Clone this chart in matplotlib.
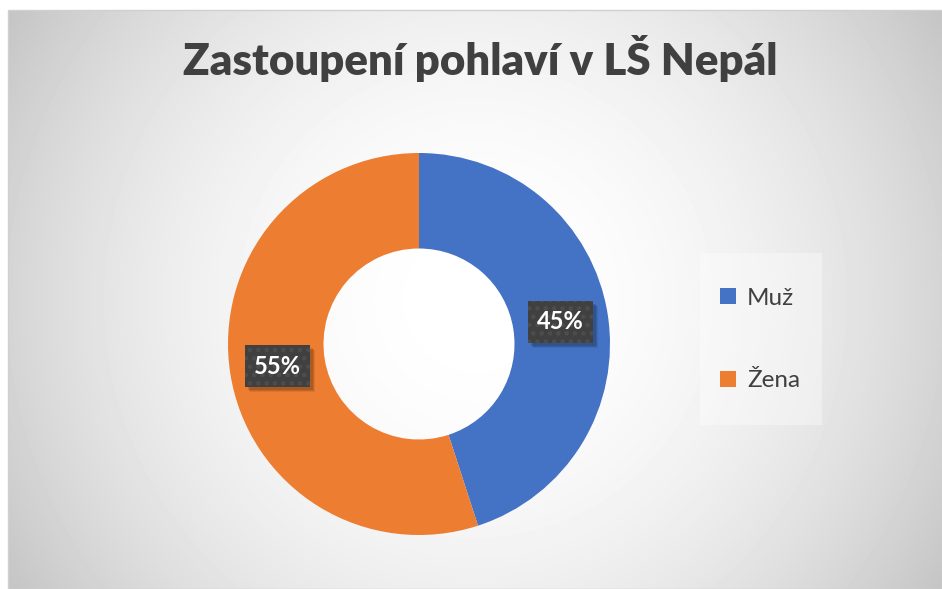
import numpy as np
import matplotlib.pyplot as plt
from matplotlib.patches import Rectangle

# --- data ---
labels = ["Muž", "Žena"]
shares = [45, 55]
colors = ["#4472C4", "#ED7D31"]
title = "Zastoupení pohlaví v LŠ Nepál"

W, H = 942, 589
fig = plt.figure(figsize=(W / 100, H / 100), dpi=100)
fig.patch.set_facecolor("white")

# --- background (pixel coordinates) ---
bg = fig.add_axes([0, 0, 1, 1])
bg.set_xlim(0, W)
bg.set_ylim(H, 0)
bg.axis("off")

x0, y0, x1, y1 = 8, 10, 942, 589
xx, yy = np.meshgrid(np.arange(x0, x1), np.arange(y0, y1))
r2 = (xx - 475) ** 2 + (yy - 300) ** 2
grad = np.clip(255 - 1.95e-4 * r2, 190, 255) / 255.0
bg.imshow(grad, cmap="gray", vmin=0, vmax=1, extent=[x0, x1, y1, y0],
          aspect="auto", interpolation="bilinear", zorder=0)
bg.add_patch(Rectangle((x0, y0), x1 - x0, y1 - y0, fill=False,
                       edgecolor="#d0d0d0", linewidth=1, zorder=1))

# legend panel
bg.add_patch(Rectangle((700, 253), 122, 172, facecolor="white", alpha=0.35,
                       edgecolor="none", zorder=2))

bg.text(480, 75, title, ha="center", va="baseline", fontsize=31.5,
        fontweight="heavy", family="Lato", color="#404040", zorder=3)

# --- donut ---
cx, cy, R = 419, 344, 191
ax = fig.add_axes([(cx - R) / W, (H - cy - R) / H, 2 * R / W, 2 * R / H])
ax.set_facecolor("none")
wedges, _ = ax.pie(shares, colors=colors, startangle=90, counterclock=False,
                   radius=1, wedgeprops=dict(width=0.5, linewidth=0))
ax.set_xlim(-1, 1)
ax.set_ylim(-1, 1)
ax.set_aspect("equal")
ax.axis("off")

plt.rcParams["hatch.linewidth"] = 2.0
cum = 0
total = sum(shares)
label_texts = []
for s in shares:
    mid = np.deg2rad(90 - (cum + s / 2) / total * 360)
    cum += s
    tx, ty = 0.75 * np.cos(mid), 0.75 * np.sin(mid)
    t = ax.text(tx, ty, f"{s}%", ha="center", va="center", fontsize=17,
                fontweight="bold", family="Lato", color="white", zorder=5,
                bbox=dict(boxstyle="square,pad=0.4", facecolor="#404040",
                          edgecolor="#4d4d4d", hatch="..", linewidth=0))
    label_texts.append(t)

# soft shadows under the label boxes
fig.canvas.draw()
for t in label_texts:
    ext = t.get_bbox_patch().get_window_extent()
    for k, a in [(5, 0.08), (4, 0.1), (3, 0.12)]:
        shadow = Rectangle((ext.x0 + k, H - ext.y1 + k), ext.width, ext.height,
                           facecolor="black", alpha=a, edgecolor="none",
                           transform=bg.transData, zorder=1)
        ax.add_patch(shadow)

# --- legend ---
fig.legend(wedges, labels, loc="center left",
           bbox_to_anchor=(720 / W, (H - 339.5) / H), frameon=False,
           prop=dict(family="Lato", size=17.5), labelcolor="#404040",
           handlelength=0.66, handleheight=0.66, handletextpad=0.45,
           labelspacing=2.55, borderpad=0, borderaxespad=0)

fig.savefig("out.png", dpi=100)
